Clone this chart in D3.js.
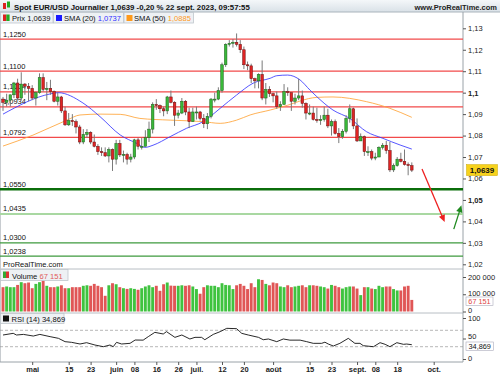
<!DOCTYPE html>
<html>
<head>
<meta charset="utf-8">
<script src="https://cdn.jsdelivr.net/npm/d3@7"></script>
<style>
  body { margin: 0; background: #fff; }
  svg { display: block; font-family: "Liberation Sans", Arial, sans-serif; }
</style>
</head>
<body>
<div id="chart"></div>
<script>
/* DATA */
// daily candles, 19 avr. -> 22 sept. 2023
const firstDay = "2023-04-19";
const open = [1.0970,1.0955,1.0965,1.0990,1.1045,1.0975,1.1040,1.1030,
  1.1020,1.0975,1.1000,1.1070,1.1015,1.1020,1.1005,1.0960,1.0980,1.0915,
  1.0850,1.0870,1.0865,1.0840,1.0770,1.0805,1.0815,1.0770,1.0750,1.0725,
  1.0720,1.0705,1.0735,1.0690,1.0763,1.0710,1.0712,1.0690,1.0700,1.0780,
  1.0750,1.0750,1.0790,1.0830,1.0945,1.0940,1.0925,1.0915,1.0980,1.0955,
  1.0895,1.0905,1.0960,1.0910,1.0865,1.0910,1.0910,1.0880,1.0855,1.0890,
  1.0970,1.0970,1.1010,1.1130,1.1225,1.1230,1.1235,1.1225,1.1200,1.1130,
  1.1125,1.1065,1.1055,1.1085,1.0975,1.1015,1.0995,1.0985,1.0935,1.0945,
  1.1005,1.1000,1.0960,1.0975,1.0985,1.0950,1.0905,1.0905,1.0875,1.0870,
  1.0875,1.0895,1.0845,1.0865,1.0810,1.0795,1.0820,1.0880,1.0925,1.0845,
  1.0775,1.0795,1.0725,1.0725,1.0695,1.0700,1.0745,1.0755,1.0730,1.0640,
  1.0660,1.0690,1.0680,1.0665,1.0660];
const high = [1.0980,1.0995,1.0990,1.1050,1.1065,1.1095,1.1045,1.1045,
  1.1035,1.1005,1.1090,1.1090,1.1050,1.1060,1.1010,1.1000,1.0985,1.0935,
  1.0905,1.0900,1.0875,1.0850,1.0830,1.0830,1.0820,1.0805,1.0760,1.0745,
  1.0745,1.0745,1.0740,1.0780,1.0780,1.0730,1.0720,1.0715,1.0785,1.0790,
  1.0790,1.0825,1.0865,1.0955,1.0970,1.0945,1.0935,1.0985,1.1010,1.0960,
  1.0920,1.0975,1.0965,1.0930,1.0930,1.0935,1.0915,1.0900,1.0905,1.0975,
  1.1000,1.1025,1.1140,1.1230,1.1245,1.1250,1.1276,1.1245,1.1215,1.1145,
  1.1135,1.1070,1.1090,1.1150,1.1045,1.1030,1.1000,1.1005,1.0960,1.1040,
  1.1025,1.1000,1.0995,1.1065,1.1010,1.0955,1.0945,1.0935,1.0930,1.0895,
  1.0935,1.0925,1.0875,1.0875,1.0835,1.0830,1.0895,1.0945,1.0930,1.0880,
  1.0810,1.0800,1.0750,1.0735,1.0720,1.0750,1.0765,1.0775,1.0770,1.0670,
  1.0700,1.0720,1.0735,1.0675,1.0675];
const low = [1.0915,1.0935,1.0935,1.0975,1.0965,1.0965,1.0990,1.0960,
  1.0965,1.0940,1.0995,1.1005,1.0965,1.0990,1.0955,1.0940,1.0905,1.0845,
  1.0845,1.0845,1.0810,1.0760,1.0760,1.0790,1.0760,1.0745,1.0710,1.0705,
  1.0700,1.0675,1.0635,1.0665,1.0700,1.0675,1.0665,1.0675,1.0690,1.0735,
  1.0735,1.0750,1.0770,1.0810,1.0920,1.0905,1.0890,1.0900,1.0950,1.0845,
  1.0880,1.0900,1.0895,1.0835,1.0865,1.0875,1.0870,1.0835,1.0830,1.0880,
  1.0955,1.0965,1.1000,1.1120,1.1215,1.1210,1.1215,1.1185,1.1110,1.1105,
  1.1045,1.1020,1.1020,1.0965,1.0945,1.0980,1.0955,1.0925,1.0915,1.0945,
  1.0985,1.0915,1.0945,1.0965,1.0930,1.0875,1.0895,1.0870,1.0860,1.0850,
  1.0865,1.0835,1.0800,1.0805,1.0765,1.0785,1.0810,1.0860,1.0830,1.0770,
  1.0775,1.0705,1.0705,1.0685,1.0685,1.0700,1.0735,1.0715,1.0630,1.0630,
  1.0655,1.0675,1.0660,1.0615,1.0630];
const close = [1.0955,1.0965,1.0990,1.1045,1.0975,1.1040,1.1030,1.1020,
  1.0975,1.1000,1.1070,1.1015,1.1020,1.1005,1.0960,1.0980,1.0915,1.0850,
  1.0870,1.0865,1.0840,1.0770,1.0805,1.0815,1.0770,1.0750,1.0725,1.0720,
  1.0705,1.0735,1.0690,1.0763,1.0710,1.0712,1.0690,1.0700,1.0780,1.0750,
  1.0750,1.0790,1.0830,1.0945,1.0940,1.0925,1.0915,1.0980,1.0955,1.0895,
  1.0905,1.0960,1.0910,1.0865,1.0910,1.0910,1.0880,1.0855,1.0890,1.0970,
  1.0970,1.1010,1.1130,1.1225,1.1230,1.1235,1.1225,1.1200,1.1130,1.1125,
  1.1065,1.1055,1.1085,1.0975,1.1015,1.0995,1.0985,1.0935,1.0945,1.1005,
  1.1000,1.0960,1.0975,1.0985,1.0950,1.0905,1.0905,1.0875,1.0870,1.0875,
  1.0895,1.0845,1.0865,1.0810,1.0795,1.0820,1.0880,1.0925,1.0845,1.0775,
  1.0795,1.0725,1.0725,1.0695,1.0700,1.0745,1.0755,1.0730,1.0640,1.0660,
  1.0690,1.0680,1.0665,1.0660,1.0639];
// volume in thousands
const volumeK = [141,145,141,141,154,170,164,168,135,160,
  170,179,149,141,141,145,152,135,135,141,
  141,141,149,152,149,160,149,141,91,152,
  164,158,141,135,131,135,131,126,135,145,
  152,141,149,120,158,168,150,149,149,152,
  149,152,145,130,103,141,152,149,149,141,
  164,154,152,130,152,160,149,130,164,141,
  187,183,160,152,168,164,145,141,152,141,
  145,149,152,141,152,152,149,145,141,133,
  154,149,141,133,141,145,145,133,95,141,
  141,133,130,149,141,145,145,130,122,122,
  145,149,67.151];

// moving averages and RSI, sampled [candle number from firstDay, value]
const sma20 = [[0,1.0900],[12.9,1.0994],[15.1,1.1000],[21.9,1.0952],[26.6,1.0888],
  [32.1,1.0803],[36.6,1.0764],[38.9,1.0745],[41.1,1.0755],[45.8,1.0795],
  [50.3,1.0834],[54.8,1.0865],[56.7,1.0888],[59.5,1.0927],[64,1.0989],
  [68.5,1.1044],[73.2,1.1067],[75,1.1079],[78,1.1082],[81.4,1.1059],
  [84.1,1.1012],[86,1.0981],[90.4,1.0919],[95,1.0880],[99.6,1.0818],
  [104.1,1.0787],[108.8,1.0756],[112,1.0737]];
const sma50 = [[0,1.0751],[8.2,1.0802],[17.5,1.0872],[21.1,1.0896],[26.6,1.0900],
  [32.1,1.0899],[37.5,1.0880],[45.8,1.0872],[54.8,1.0865],[59.5,1.0857],
  [64,1.0872],[67.7,1.0896],[73.2,1.0919],[76.7,1.0935],[86,1.0978],
  [90.4,1.0980],[99.6,1.0958],[106,1.0927],[112,1.0885]];
const rsi = [[0,58.5],[2.8,62.6],[3.7,58.5],[5.6,60],[8.3,56],[10.1,60],[12.9,54.5],
  [15.2,50.4],[17,42.3],[18.8,40.6],[21.1,36.6],[22.9,39.8],[25.2,34.1],[27.5,30],
  [29.3,34.1],[30.2,30],[31.1,40.6],[32.5,36.6],[34.8,38.2],[36.2,46.3],[38.4,46],
  [39.8,54.5],[41.6,65],[43.9,61],[44.8,66.7],[47.1,52.8],[49,58.5],[51.2,48.8],
  [52.6,52.8],[54.4,52.8],[55.3,47],[57.6,60],[59.5,66.7],[61.3,74.8],[64,74],
  [65.4,62.6],[67.2,58.5],[70,52.8],[71.3,47],[72.7,48.8],[75,42.3],[76.8,48.8],
  [78.6,46],[81.4,46],[83.2,42.3],[85,38.2],[87.3,38.2],[88.2,41],[89.1,36.6],
  [90.5,31.7],[92.3,38.2],[94.6,50.4],[96.4,38.2],[97.8,38.2],[98.7,32.5],
  [101.5,30],[103.3,39.8],[104.7,35.8],[106,30],[107.9,39.8],[109.7,35.8],
  [110.6,36.5],[112,34.869]];

// horizontal levels drawn on the chart
const redLevels = [1.1250, 1.1100, 1.1004, 1.0934, 1.0792];
const greenLevels = [1.0550, 1.0435, 1.0300, 1.0238];
const priceTicks = [1.13, 1.12, 1.11, 1.10, 1.09, 1.08, 1.07, 1.06, 1.05, 1.04, 1.03, 1.02];
const boldTicks = [1.10, 1.05];
const dateTicks = ["2023-05-01","2023-05-15","2023-05-23","2023-06-01","2023-06-08","2023-06-16",
  "2023-06-26","2023-07-03","2023-07-12","2023-07-20","2023-08-01","2023-08-15","2023-08-23",
  "2023-09-01","2023-09-08","2023-09-18","2023-10-02"];
const dateLabels = ["mai","15","23","juin","08","16","26","juil.","12","20","août","15","23",
  "sept.","08","18","oct."];

/* CONSTANTS */
const width = 500, height = 375;
const axisX = 463;
const paneMain = [12, 269], paneVol = [269, 313], paneRsi = [313, 362];

// trading days (weekdays) from firstDay
const days = [];
for (let d = new Date(firstDay + "T12:00:00"); days.length < 125; d.setDate(d.getDate() + 1)) {
  if (d.getDay() !== 0 && d.getDay() !== 6) days.push(d3.timeFormat("%Y-%m-%d")(d));
}
const candles = close.map((c, i) => ({ i, o: open[i], h: high[i], l: low[i], c, v: volumeK[i] * 1000 }));

/* SCALES */
const x = d3.scaleLinear().domain([0, 112]).range([3, 411.8]);
const y = d3.scaleLinear().domain([1.02, 1.13]).range([264.3, 28.3]);
const yVol = d3.scaleLinear().domain([0, 200000]).range([311.5, 277]);
const yRsi = d3.scaleLinear().domain([0, 100]).range([359, 318]);
const comma = v => String(v).replace(".", ",");

const svg = d3.select("#chart").append("svg")
  .attr("width", width).attr("height", height);

const defs = svg.append("defs");
const grad = defs.append("linearGradient").attr("id", "hdr").attr("x1", 0).attr("x2", 0).attr("y1", 0).attr("y2", 1);
grad.append("stop").attr("offset", "0%").attr("stop-color", "#f4f7f9");
grad.append("stop").attr("offset", "100%").attr("stop-color", "#d9e1e7");
defs.append("clipPath").attr("id", "clipMain").append("rect")
  .attr("x", 0).attr("y", paneMain[0]).attr("width", axisX).attr("height", paneMain[1] - paneMain[0]);

/* HEADER */
svg.append("rect").attr("width", width).attr("height", 12).attr("fill", "url(#hdr)");
svg.append("line").attr("x1", 0).attr("x2", width).attr("y1", 12).attr("y2", 12).attr("stroke", "#aab4bc");
svg.append("rect").attr("x", 3).attr("y", 3).attr("width", 3).attr("height", 6).attr("fill", "#d22");
svg.append("rect").attr("x", 7).attr("y", 1.5).attr("width", 3).attr("height", 6).attr("fill", "#2a2");
svg.append("text").attr("x", 14).attr("y", 9.5)
  .attr("font-size", 7.8).attr("font-weight", "bold").attr("fill", "#111")
  .text("Spot EUR/USD Journalier 1,0639 -0,20 % 22 sept. 2023, 09:57:55");
svg.append("text").attr("x", 497).attr("y", 9.5).attr("text-anchor", "end")
  .attr("font-size", 7.5).attr("font-weight", "bold").attr("fill", "#222")
  .text("www.ProRealTime.com");

/* PANE BORDERS */
[paneMain[1], paneVol[1]].forEach(py =>
  svg.append("line").attr("x1", 0).attr("x2", axisX).attr("y1", py).attr("y2", py).attr("stroke", "#b8bec4"));
svg.append("line").attr("x1", 0.5).attr("x2", 0.5).attr("y1", 12).attr("y2", paneRsi[1]).attr("stroke", "#c8ccd0");
svg.append("line").attr("x1", axisX).attr("x2", axisX).attr("y1", 12).attr("y2", paneRsi[1]).attr("stroke", "#9aa2a8");
svg.append("line").attr("x1", 0).attr("x2", axisX).attr("y1", paneRsi[1]).attr("y2", paneRsi[1]).attr("stroke", "#9aa2a8");

/* MAIN PANE */
const main = svg.append("g").attr("clip-path", "url(#clipMain)");

main.selectAll("line.red").data(redLevels).join("line").attr("class", "red")
  .attr("x1", 0).attr("x2", axisX).attr("y1", d => y(d)).attr("y2", d => y(d))
  .attr("stroke", "#f24a4a").attr("stroke-width", 1.2);
const greenStyle = [["#0b6e0b", 2.5], ["#a9d8a2", 2], ["#3e9a3e", 1.2], ["#3e9a3e", 1.2]];
main.selectAll("line.green").data(greenLevels).join("line").attr("class", "green")
  .attr("x1", 0).attr("x2", axisX).attr("y1", d => y(d)).attr("y2", d => y(d))
  .attr("stroke", (d, i) => greenStyle[i][0]).attr("stroke-width", (d, i) => greenStyle[i][1]);

main.selectAll("text.lvl").data(redLevels.concat(greenLevels)).join("text").attr("class", "lvl")
  .attr("x", 3).attr("y", d => y(d) - 2.5).attr("font-size", 7.5).attr("fill", "#111")
  .text(d => d3.format(".4f")(d).replace(".", ","));

// moving averages
const smaLine = d3.line().x(d => x(d[0])).y(d => y(d[1])).curve(d3.curveMonotoneX);
main.append("path").datum(sma50).attr("d", smaLine).attr("fill", "none")
  .attr("stroke", "#ffa53a").attr("stroke-width", 1).attr("opacity", 0.85);
main.append("path").datum(sma20).attr("d", smaLine).attr("fill", "none")
  .attr("stroke", "#3a3aff").attr("stroke-width", 1).attr("opacity", 0.85);

// candles
const bw = 2.6;
const cg = main.selectAll("g.candle").data(candles).join("g").attr("class", "candle");
cg.append("line").attr("x1", d => x(d.i)).attr("x2", d => x(d.i))
  .attr("y1", d => y(d.h)).attr("y2", d => y(d.l)).attr("stroke", "#7a7a7a").attr("stroke-width", 1);
cg.append("rect").attr("x", d => x(d.i) - bw / 2).attr("width", bw)
  .attr("y", d => y(Math.max(d.o, d.c)))
  .attr("height", d => Math.max(1, Math.abs(y(d.o) - y(d.c))))
  .attr("fill", d => d.c >= d.o ? "#39b839" : "#e02424")
  .attr("stroke", d => d.c >= d.o ? "#1d5e1d" : "#6a1010").attr("stroke-width", 0.5);

// arrows
function arrow(x1, y1, x2, y2, color) {
  const a = Math.atan2(y2 - y1, x2 - x1), L = 7, W = 3.2;
  svg.append("line").attr("x1", x1).attr("y1", y1)
    .attr("x2", x2 - Math.cos(a) * L * 0.8).attr("y2", y2 - Math.sin(a) * L * 0.8)
    .attr("stroke", color).attr("stroke-width", 1.3);
  const bx = x2 - Math.cos(a) * L, by = y2 - Math.sin(a) * L;
  svg.append("path").attr("fill", color)
    .attr("d", `M${x2},${y2}L${bx - Math.sin(a) * W},${by + Math.cos(a) * W}L${bx + Math.sin(a) * W},${by - Math.cos(a) * W}Z`);
}
arrow(x(114.8), y(1.0644), x(121), y(1.0397), "#ee2020");
arrow(x(123.5), y(1.0364), x(125.6), y(1.0475), "#1f8a1f");

// price axis
const pAxis = svg.append("g").attr("transform", `translate(${axisX},0)`)
  .call(d3.axisRight(y).tickValues(priceTicks).tickSize(3).tickFormat(comma));
pAxis.select(".domain").remove();
pAxis.selectAll("line").attr("stroke", "#555");
pAxis.selectAll("text").attr("font-size", 7.5).attr("fill", "#222").attr("x", 5)
  .attr("font-family", "Liberation Sans, Arial, sans-serif")
  .attr("font-weight", d => boldTicks.includes(d) ? "bold" : "normal");

// last price box
svg.append("rect").attr("x", 466.5).attr("y", y(1.0639) - 5.5).attr("width", 31).attr("height", 11)
  .attr("fill", "#f7d21c").attr("stroke", "#c9a800").attr("stroke-width", 0.5);
svg.append("text").attr("x", 482).attr("y", y(1.0639) + 3).attr("text-anchor", "middle")
  .attr("font-size", 8).attr("font-weight", "bold").attr("fill", "#111").text("1,0639");

svg.append("text").attr("x", 3).attr("y", 267).attr("font-size", 7.5).attr("fill", "#111").text("ProRealTime.com");

/* LEGEND BOXES */
function box(x0, y0, w, h) {
  svg.append("rect").attr("x", x0).attr("y", y0).attr("width", w).attr("height", h)
    .attr("fill", "#eef1f4").attr("stroke", "#bfc6cc").attr("stroke-width", 0.8);
}
function label(x0, y0, txt, value, color) {
  const t = svg.append("text").attr("x", x0).attr("y", y0).attr("font-size", 7.6)
    .attr("fill", "#111").text(txt + " ");
  t.append("tspan").attr("fill", color).text(value);
}
box(0.5, 12.5, 52.5, 10.5);
svg.append("rect").attr("x", 3).attr("y", 14.5).attr("width", 3.3).attr("height", 6.5).attr("fill", "#d22");
svg.append("rect").attr("x", 6.3).attr("y", 14.5).attr("width", 3.3).attr("height", 6.5).attr("fill", "#2a2");
label(12, 21, "Prix", "1,0639", "#111");
box(53.5, 12.5, 70, 10.5);
svg.append("rect").attr("x", 56).attr("y", 15).attr("width", 6).attr("height", 6).attr("fill", "#1a1aff");
label(64, 21, "SMA (20)", "1,0737", "#2f2fff");
box(124, 12.5, 69.5, 10.5);
svg.append("rect").attr("x", 126.5).attr("y", 15).attr("width", 6).attr("height", 6).attr("fill", "#ff9a1a");
label(134, 21, "SMA (50)", "1,0885", "#ff9a1a");

/* VOLUME PANE */
const vbw = 2.9;
svg.append("g").selectAll("rect").data(candles).join("rect")
  .attr("x", d => x(d.i) - vbw / 2).attr("width", vbw)
  .attr("y", d => yVol(d.v)).attr("height", d => yVol(0) - yVol(d.v))
  .attr("fill", d => d.c >= d.o ? "#3fc33f" : "#e05656");
const vAxis = svg.append("g").attr("transform", `translate(${axisX},0)`)
  .call(d3.axisRight(yVol).tickValues([0, 100000, 200000]).tickSize(3)
    .tickFormat(d => d3.format(",")(d).replace(/,/g, " ")));
vAxis.select(".domain").remove();
vAxis.selectAll("line").attr("stroke", "#555");
vAxis.selectAll("text").attr("font-size", 7.5).attr("fill", "#222").attr("x", 5)
  .attr("font-family", "Liberation Sans, Arial, sans-serif")
  .attr("y", d => d === 0 ? -1.5 : d === 100000 ? -1.5 : 0);
box(0.5, 269.5, 67.5, 11);
svg.append("rect").attr("x", 3).attr("y", 271.5).attr("width", 3).attr("height", 6.5).attr("fill", "#3a3");
svg.append("rect").attr("x", 6).attr("y", 271.5).attr("width", 3).attr("height", 6.5).attr("fill", "#d33");
label(12, 278.5, "Volume", "67 151", "#e05a5a");
svg.append("rect").attr("x", 466).attr("y", 297).attr("width", 27).attr("height", 8.5)
  .attr("fill", "#fff").attr("stroke", "#aab").attr("stroke-width", 0.6);
svg.append("text").attr("x", 479.5).attr("y", 304).attr("text-anchor", "middle")
  .attr("font-size", 7.3).attr("fill", "#e04848").text("67 151");

/* RSI PANE */
[70, 30].forEach(v => svg.append("line").attr("x1", 0).attr("x2", axisX)
  .attr("y1", yRsi(v)).attr("y2", yRsi(v)).attr("stroke", "#9a9a9a")
  .attr("stroke-width", 0.7).attr("stroke-dasharray", "3,2"));
svg.append("path").datum(rsi)
  .attr("d", d3.line().x(d => x(d[0])).y(d => yRsi(d[1])))
  .attr("fill", "none").attr("stroke", "#111").attr("stroke-width", 0.9);
const rAxis = svg.append("g").attr("transform", `translate(${axisX},0)`)
  .call(d3.axisRight(yRsi).tickValues([0, 50, 100]).tickSize(3));
rAxis.select(".domain").remove();
rAxis.selectAll("line").attr("stroke", "#555");
rAxis.selectAll("text").attr("font-size", 7.5).attr("fill", "#222").attr("x", 5)
  .attr("font-family", "Liberation Sans, Arial, sans-serif")
  .attr("y", d => d === 50 ? -2.5 : d === 100 ? 0.5 : -1);
box(0.5, 313.5, 63.5, 10);
svg.append("rect").attr("x", 3).attr("y", 315.5).attr("width", 6).attr("height", 6).attr("fill", "#111");
label(11.5, 321.5, "RSI (14)", "34,869", "#111");
svg.append("rect").attr("x", 466).attr("y", 342).attr("width", 27.5).attr("height", 8.5)
  .attr("fill", "#fff").attr("stroke", "#aab").attr("stroke-width", 0.6);
svg.append("text").attr("x", 479.7).attr("y", 349).attr("text-anchor", "middle")
  .attr("font-size", 7.3).attr("fill", "#111").text("34,869");

/* DATE AXIS */
const tickIdx = dateTicks.map(d => days.indexOf(d));
const xAxis = svg.append("g").attr("transform", `translate(0,${paneRsi[1]})`)
  .call(d3.axisBottom(x).tickValues(tickIdx).tickSize(3)
    .tickFormat((d, i) => dateLabels[i]));
xAxis.select(".domain").remove();
xAxis.selectAll("line").attr("stroke", "#555");
xAxis.selectAll("text").attr("font-size", 7.5).attr("font-weight", "bold").attr("fill", "#222")
  .attr("dy", "0.55em").attr("font-family", "Liberation Sans, Arial, sans-serif");
</script>
</body>
</html>
